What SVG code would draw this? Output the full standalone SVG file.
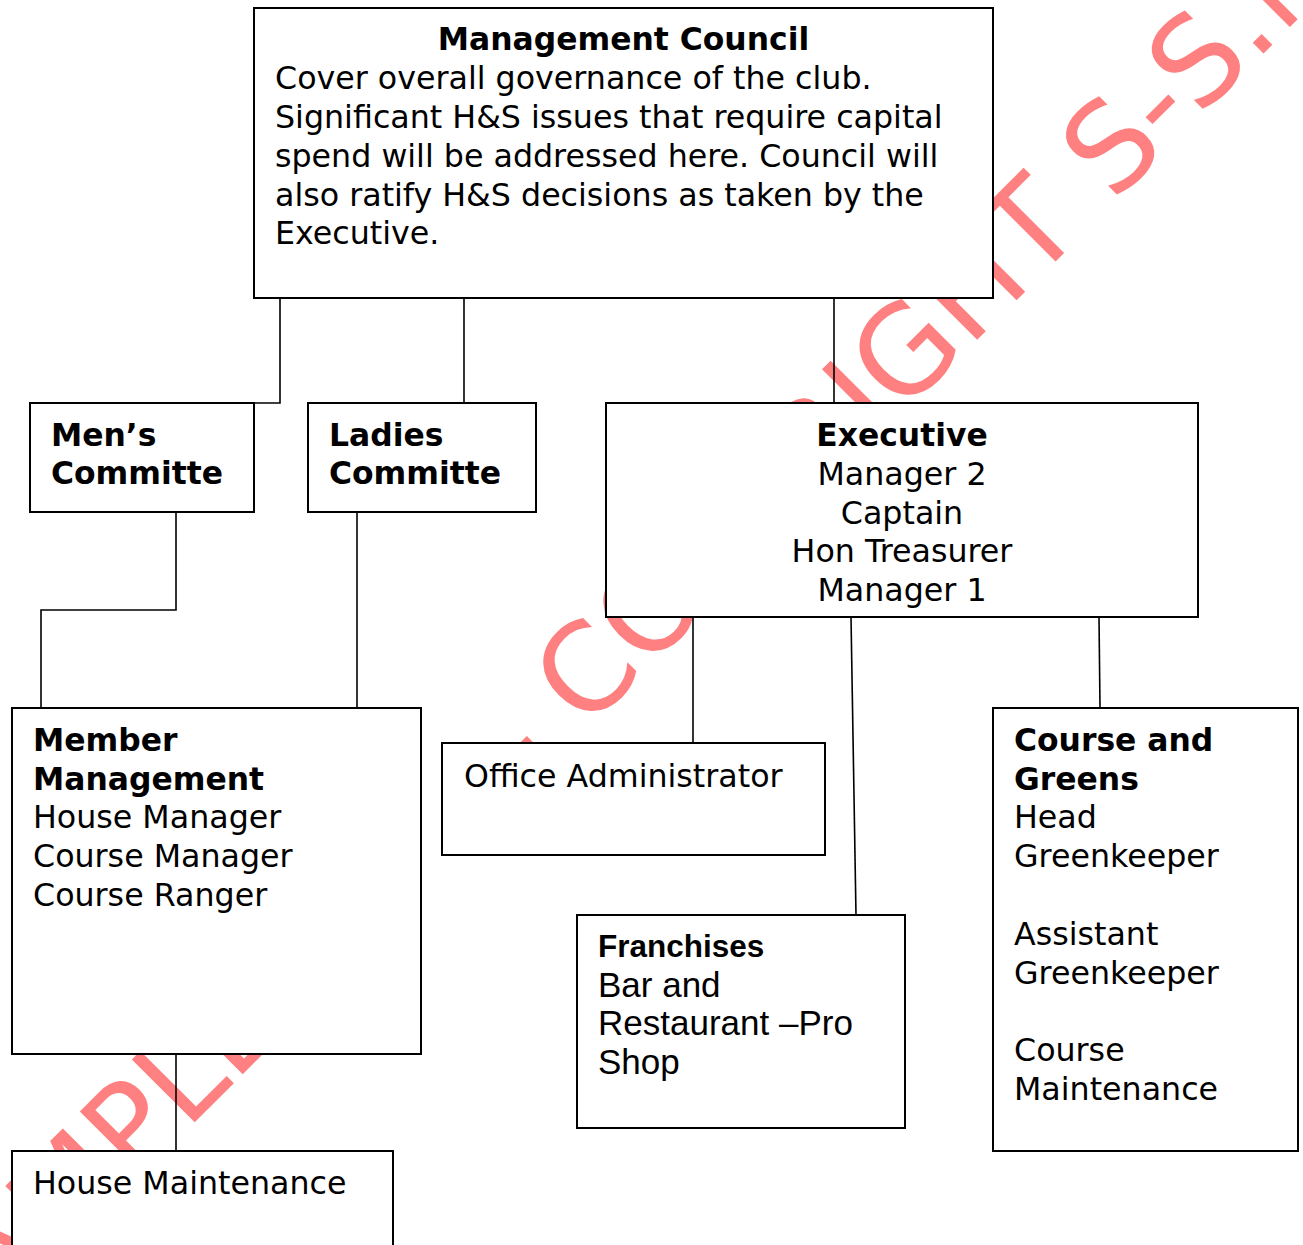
<svg xmlns="http://www.w3.org/2000/svg" width="1303" height="1245" viewBox="0 0 1303 1245">
<style>
.box{fill:#fff;stroke:#000;stroke-width:2}
.con{fill:none;stroke:#000;stroke-width:1.6}
.t{font-family:"DejaVu Sans",Verdana,sans-serif;font-size:31.7px;fill:#000}
.b{font-weight:bold;font-size:31.4px}
.a{font-family:"Liberation Sans",Arial,sans-serif;font-size:35px;fill:#000}
.ab{font-weight:bold;font-size:31.5px}
.wm{font-family:"DejaVu Sans",Verdana,sans-serif;font-size:122px;fill:#ff8080}
</style>
<rect width="1303" height="1245" fill="#fff"/>
<g id="watermark" transform="translate(658.5,658.5) rotate(-45)">
<text class="wm" x="-1010" y="0">SAMPLE</text>
<text class="wm" x="-186" y="0">- COPYRIGHT S-S.ie</text>
</g>
<g id="connectors">
<path class="con" d="M280,298 V403 H254"/>
<path class="con" d="M464,298 V403"/>
<path class="con" d="M834,298 V403"/>
<path class="con" d="M176,512 V610 H41 V708"/>
<path class="con" d="M357,512 V708"/>
<path class="con" d="M693,617 V743"/>
<path class="con" d="M851,617 L856,915"/>
<path class="con" d="M1099,617 L1100,708"/>
<path class="con" d="M176,1054 V1151"/>
</g>
<g id="management-council">
<rect class="box" x="254" y="8" width="739" height="290"/>
<text class="t b" x="623.5" y="50" text-anchor="middle">Management Council</text>
<text class="t"><tspan x="275" y="89">Cover overall governance of the club.</tspan><tspan x="275" y="128">Significant H&amp;S issues that require capital</tspan><tspan x="275" y="166.5">spend will be addressed here. Council will</tspan><tspan x="275" y="205.5">also ratify H&amp;S decisions as taken by the</tspan><tspan x="275" y="244">Executive.</tspan></text>
</g>
<g id="mens-committee">
<rect class="box" x="30" y="403" width="224" height="109"/>
<text class="t b"><tspan x="51" y="446">Men’s</tspan><tspan x="51" y="484">Committe</tspan></text>
</g>
<g id="ladies-committee">
<rect class="box" x="308" y="403" width="228" height="109"/>
<text class="t b"><tspan x="329" y="446">Ladies</tspan><tspan x="329" y="484">Committe</tspan></text>
</g>
<g id="executive">
<rect class="box" x="606" y="403" width="592" height="214"/>
<text class="t b" x="902" y="446" text-anchor="middle">Executive</text>
<text class="t" text-anchor="middle"><tspan x="902" y="485">Manager 2</tspan><tspan x="902" y="523.5">Captain</tspan><tspan x="902" y="562">Hon Treasurer</tspan><tspan x="902" y="601">Manager 1</tspan></text>
</g>
<g id="member-management">
<rect class="box" x="12" y="708" width="409" height="346"/>
<text class="t b"><tspan x="33" y="751">Member</tspan><tspan x="33" y="790">Management</tspan></text>
<text class="t"><tspan x="33" y="828">House Manager</tspan><tspan x="33" y="867">Course Manager</tspan><tspan x="33" y="906">Course Ranger</tspan></text>
</g>
<g id="office-administrator">
<rect class="box" x="442" y="743" width="383" height="112"/>
<text class="t" x="464" y="787">Office Administrator</text>
</g>
<g id="course-and-greens">
<rect class="box" x="993" y="708" width="305" height="443"/>
<text class="t b"><tspan x="1014" y="751">Course and</tspan><tspan x="1014" y="790">Greens</tspan></text>
<text class="t"><tspan x="1014" y="828">Head</tspan><tspan x="1014" y="867">Greenkeeper</tspan><tspan x="1014" y="945">Assistant</tspan><tspan x="1014" y="984">Greenkeeper</tspan><tspan x="1014" y="1061">Course</tspan><tspan x="1014" y="1100">Maintenance</tspan></text>
</g>
<g id="franchises">
<rect class="box" x="577" y="915" width="328" height="213"/>
<text class="a ab" x="598" y="957">Franchises</text>
<text class="a"><tspan x="598" y="997">Bar and</tspan><tspan x="598" y="1035">Restaurant –Pro</tspan><tspan x="598" y="1074">Shop</tspan></text>
</g>
<g id="house-maintenance">
<rect class="box" x="12" y="1151" width="381" height="110"/>
<text class="t" x="33" y="1194">House Maintenance</text>
</g>
</svg>
